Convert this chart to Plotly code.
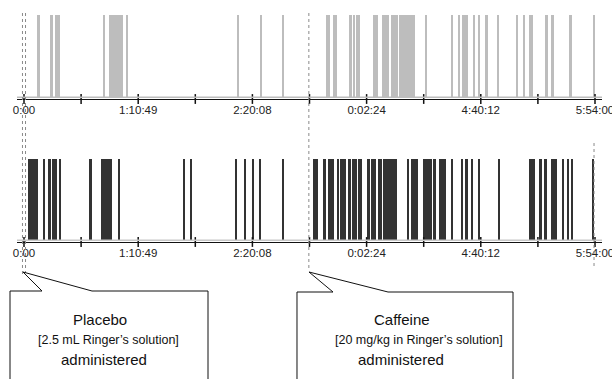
import plotly.graph_objects as go

# ---------------- data (minutes from start of recording) ----------------
top_starts = [7.8, 16.1, 19.4, 49.0, 52.7, 63.2, 132.5, 146.8, 160.4,
              187.2, 191.4, 201.2, 204.2, 205.8, 216.6, 221.8, 223.8, 225.4,
              227.4, 232.6, 248.3, 265.2, 269.1, 271.6, 278.6, 281.7, 286.1,
              293.0, 305.5, 309.4, 312.8, 323.3, 326.7, 338.1, 353.1]
top_ends = [10.2, 17.7, 22.3, 50.0, 61.6, 64.5, 133.3, 147.6, 161.2,
            189.7, 194.2, 203.4, 205.2, 208.5, 219.5, 223.5, 224.8, 226.5,
            232.0, 242.4, 249.9, 266.2, 270.3, 275.5, 279.6, 282.7, 287.4,
            294.5, 306.5, 310.6, 315.4, 324.6, 328.3, 339.8, 354.0]

bot_starts = [2.7, 12.0, 14.6, 17.7, 19.2, 21.7, 40.6, 47.6, 58.3, 98.9,
              103.2, 131.0, 136.7, 141.7, 146.0, 160.4,
              179.4, 185.2, 188.5, 194.5, 195.9, 200.7, 203.4, 207.3, 212.5,
              215.0, 219.7, 222.8, 237.3, 239.9, 247.6, 253.4, 257.5, 265.2,
              270.9, 273.9, 277.6, 281.7, 294.1, 313.3, 319.5, 322.6, 326.6,
              333.4, 337.1, 339.6, 352.5]
bot_ends = [8.5, 13.3, 16.6, 18.6, 20.2, 22.6, 42.2, 54.7, 59.7, 99.7,
            104.0, 131.8, 137.5, 142.5, 146.8, 161.4,
            182.5, 187.2, 192.4, 195.3, 199.6, 202.6, 206.3, 209.4, 214.5,
            218.1, 221.8, 231.1, 238.7, 244.5, 252.8, 255.4, 261.5, 265.8,
            272.4, 275.1, 278.6, 282.7, 295.1, 316.8, 321.0, 324.1, 330.3,
            334.8, 338.1, 340.6, 353.1]

tick_vals = [0, 35.4, 70.8, 106.2, 141.6, 177.0, 212.4, 247.8, 283.2, 318.6, 354.0]
label_vals = [0, 70.8, 141.6, 212.4, 283.2, 354.0]
label_text = ["0:00", "1:10:49", "2:20:08", "0:02:24", "4:40:12", "5:54:00"]

treatment_times = [0.0, 176.6]
treatment_titles = ["Placebo", "Caffeine"]
treatment_details = ["[2.5 mL Ringer\u2019s solution]", "[20 mg/kg in Ringer\u2019s solution]"]

W, H = 612, 379
FONT = "Liberation Sans, Arial, sans-serif"
GRAY_BAR = "#bdbdbd"
DARK_BAR = "#333333"


def py(px):  # pixel row -> paper y
    return 1 - px / H


def px_x(px):  # pixel column -> paper x
    return px / W


fig = go.Figure()

x_range = [-4.34, 358.34]
x_domain = [17 / W, 602 / W]

panels = [
    dict(xa="x", ya="y", starts=top_starts, ends=top_ends, color=GRAY_BAR,
         dom=[py(99), py(15)]),
    dict(xa="x2", ya="y2", starts=bot_starts, ends=bot_ends, color=DARK_BAR,
         dom=[py(242), py(159)]),
]

for p in panels:
    centers = [(s + e) / 2 for s, e in zip(p["starts"], p["ends"])]
    widths = [max(e - s, 0.75) for s, e in zip(p["starts"], p["ends"])]
    fig.add_trace(go.Bar(x=centers, y=[0.98] * len(centers), base=0.02,
                         width=widths, marker=dict(color=p["color"], line=dict(width=0)),
                         xaxis=p["xa"], yaxis=p["ya"], showlegend=False, hoverinfo="skip"))
    # crossing tick marks
    fig.add_trace(go.Scatter(x=tick_vals, y=[0] * len(tick_vals), mode="markers",
                             marker=dict(symbol="line-ns", size=7,
                                         line=dict(color="#111111", width=1.5)),
                             xaxis=p["xa"], yaxis=p["ya"], cliponaxis=False,
                             showlegend=False, hoverinfo="skip"))

axis_common = dict(range=x_range, domain=x_domain, showgrid=False, zeroline=False,
                   showline=True, linecolor="#111111", linewidth=1.3, ticks="",
                   tickvals=label_vals, ticktext=label_text,
                   ticklabeloverflow="allow",
                   tickfont=dict(family=FONT, size=11.5, color="#222222"),
                   fixedrange=True)
yaxis_common = dict(range=[0, 1], showgrid=False, zeroline=False, showline=False,
                    showticklabels=False, ticks="", fixedrange=True)

fig.update_layout(
    width=W, height=H,
    margin=dict(l=0, r=0, t=0, b=0, autoexpand=False),
    paper_bgcolor="white", plot_bgcolor="rgba(0,0,0,0)",
    bargap=0,
    xaxis=dict(anchor="y", **axis_common),
    yaxis=dict(domain=panels[0]["dom"], anchor="x", **yaxis_common),
    xaxis2=dict(anchor="y2", **axis_common),
    yaxis2=dict(domain=panels[1]["dom"], anchor="x2", **yaxis_common),
)

shapes = []
# light gray baseline above each axis
for xa, ya, col in [("x", "y", GRAY_BAR), ("x2", "y2", "#c8c8c8")]:
    shapes.append(dict(type="line", xref=xa + " domain", yref=ya, x0=0, x1=1,
                       y0=0.02, y1=0.02, line=dict(color=col, width=1.5)))

# dashed treatment markers
dash_style = dict(color="#8a8a8a", width=1, dash="3px,3px")
for off in (-0.95, 0.95):
    shapes.append(dict(type="line", xref="x", yref="paper",
                       x0=treatment_times[0] + off, x1=treatment_times[0] + off,
                       y0=py(274), y1=py(10), line=dash_style))
shapes.append(dict(type="line", xref="x", yref="paper",
                   x0=treatment_times[1], x1=treatment_times[1],
                   y0=py(268), y1=py(10), line=dash_style))
shapes.append(dict(type="line", xref="x", yref="paper",
                   x0=tick_vals[-1] - 0.6, x1=tick_vals[-1] - 0.6,
                   y0=py(266), y1=py(143), line=dash_style))

# callout boxes
callouts = [
    dict(left=10, right=208, top=291, tip=(23, 272), b1=42, b2=92,
         cx_title=100, cx_detail=108.5, cx_admin=104),
    dict(left=297, right=513, top=292, tip=(309, 272), b1=333, b2=388,
         cx_title=402, cx_detail=419, cx_admin=401),
]
for c in callouts:
    pts = [(c["left"], 382), (c["left"], c["top"]), (c["b1"], c["top"]), c["tip"],
           (c["b2"], c["top"]), (c["right"], c["top"]), (c["right"], 382)]
    path = "M " + " L ".join(f"{px_x(x):.5f},{py(y):.5f}" for x, y in pts)
    shapes.append(dict(type="path", xref="paper", yref="paper", path=path,
                       line=dict(color="#111111", width=1), fillcolor="white"))

fig.update_layout(shapes=shapes)

annotations = []
for c, title, detail in zip(callouts, treatment_titles, treatment_details):
    for text, cx, ypx, size in [(title, c["cx_title"], 319.5, 15),
                                (detail, c["cx_detail"], 339.5, 12.5),
                                ("administered", c["cx_admin"], 359, 15)]:
        annotations.append(dict(x=px_x(cx), y=py(ypx), xref="paper", yref="paper",
                                xanchor="center", yanchor="middle",
                                text=text, showarrow=False,
                                font=dict(family=FONT, size=size, color="#111111")))
fig.update_layout(annotations=annotations)

fig.write_html("out.html", config={"displayModeBar": False},
               post_script="document.body.style.margin='0';document.body.style.overflow='hidden';")
